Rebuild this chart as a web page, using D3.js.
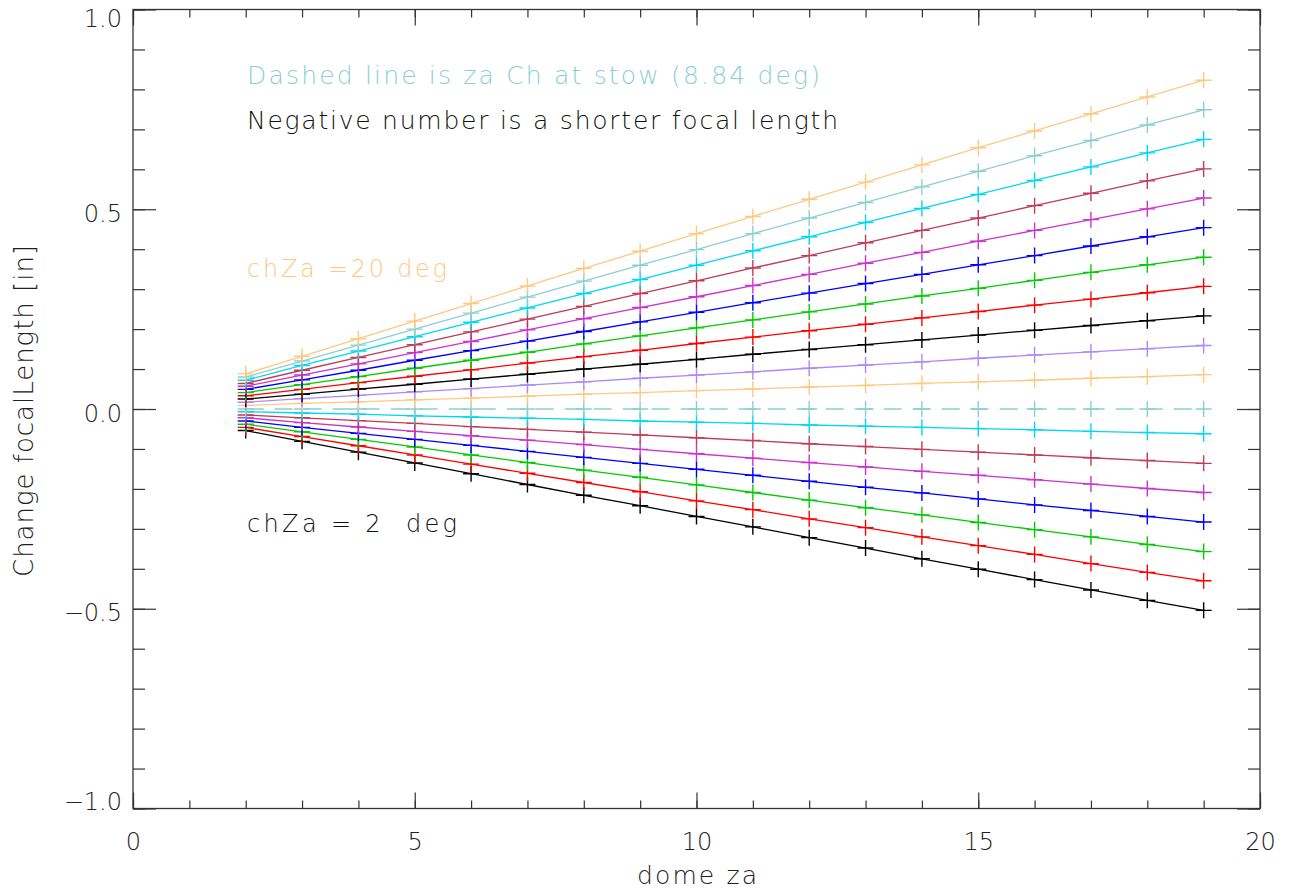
<!DOCTYPE html>
<html>
<head>
<meta charset="utf-8">
<script src="https://cdn.jsdelivr.net/npm/d3@7"></script>
<style>
  body { margin: 0; background: #fff; }
  svg { display: block; }
  text { font-family: "DejaVu Sans", Lato, sans-serif; font-weight: 200; }
</style>
</head>
<body>
<script>
// Focal length change vs dome za, one line per chZa

var svgWidth = 1291;
var svgHeight = 890;

// data
var domeZa = [2, 3, 4, 5, 6, 7, 8, 9, 10, 11, 12, 13, 14, 15, 16, 17, 18, 19];

var chZaList = [2, 3, 4, 5, 6, 7, 8, 10, 11, 12, 13, 14, 15, 16, 17, 18, 19, 20];

// one row per chZa, one value per domeZa
var focalChange = [
  [-0.054, -0.081, -0.108, -0.135, -0.162, -0.189, -0.216, -0.242, -0.269, -0.295, -0.322, -0.348, -0.375, -0.401, -0.427, -0.453, -0.479, -0.504],
  [-0.046, -0.069, -0.092, -0.115, -0.138, -0.161, -0.184, -0.207, -0.230, -0.252, -0.275, -0.297, -0.320, -0.342, -0.364, -0.387, -0.409, -0.430],
  [-0.038, -0.057, -0.076, -0.095, -0.115, -0.134, -0.153, -0.171, -0.190, -0.209, -0.228, -0.247, -0.265, -0.284, -0.302, -0.320, -0.339, -0.357],
  [-0.030, -0.046, -0.061, -0.076, -0.091, -0.106, -0.121, -0.136, -0.151, -0.166, -0.181, -0.196, -0.210, -0.225, -0.240, -0.254, -0.269, -0.283],
  [-0.022, -0.034, -0.045, -0.056, -0.067, -0.078, -0.089, -0.101, -0.112, -0.123, -0.134, -0.145, -0.156, -0.166, -0.177, -0.188, -0.199, -0.209],
  [-0.015, -0.022, -0.029, -0.036, -0.044, -0.051, -0.058, -0.065, -0.072, -0.079, -0.087, -0.094, -0.101, -0.108, -0.115, -0.122, -0.129, -0.136],
  [-0.007, -0.010, -0.013, -0.017, -0.020, -0.023, -0.026, -0.030, -0.033, -0.036, -0.040, -0.043, -0.046, -0.049, -0.052, -0.056, -0.059, -0.062],
  [0.009, 0.014, 0.018, 0.023, 0.027, 0.032, 0.037, 0.041, 0.046, 0.050, 0.055, 0.059, 0.064, 0.068, 0.072, 0.077, 0.081, 0.086],
  [0.017, 0.026, 0.034, 0.043, 0.051, 0.060, 0.068, 0.077, 0.085, 0.093, 0.102, 0.110, 0.118, 0.127, 0.135, 0.143, 0.151, 0.159],
  [0.025, 0.037, 0.050, 0.062, 0.075, 0.087, 0.100, 0.112, 0.124, 0.137, 0.149, 0.161, 0.173, 0.185, 0.197, 0.209, 0.221, 0.233],
  [0.033, 0.049, 0.066, 0.082, 0.098, 0.115, 0.131, 0.147, 0.164, 0.180, 0.196, 0.212, 0.228, 0.244, 0.260, 0.275, 0.291, 0.307],
  [0.041, 0.061, 0.081, 0.102, 0.122, 0.142, 0.163, 0.183, 0.203, 0.223, 0.243, 0.263, 0.283, 0.302, 0.322, 0.342, 0.361, 0.380],
  [0.049, 0.073, 0.097, 0.122, 0.146, 0.170, 0.194, 0.218, 0.242, 0.266, 0.290, 0.314, 0.337, 0.361, 0.384, 0.408, 0.431, 0.454],
  [0.057, 0.085, 0.113, 0.141, 0.169, 0.198, 0.226, 0.254, 0.281, 0.309, 0.337, 0.365, 0.392, 0.420, 0.447, 0.474, 0.501, 0.528],
  [0.064, 0.097, 0.129, 0.161, 0.193, 0.225, 0.257, 0.289, 0.321, 0.353, 0.384, 0.416, 0.447, 0.478, 0.509, 0.540, 0.571, 0.601],
  [0.072, 0.109, 0.145, 0.181, 0.217, 0.253, 0.289, 0.324, 0.360, 0.396, 0.431, 0.467, 0.502, 0.537, 0.572, 0.606, 0.641, 0.675],
  [0.080, 0.120, 0.160, 0.200, 0.240, 0.280, 0.320, 0.360, 0.399, 0.439, 0.478, 0.517, 0.556, 0.595, 0.634, 0.672, 0.711, 0.749],
  [0.088, 0.132, 0.176, 0.220, 0.264, 0.308, 0.352, 0.395, 0.439, 0.482, 0.525, 0.568, 0.611, 0.654, 0.696, 0.739, 0.781, 0.823]
];

// za Ch at stow line
var stowLine = [0, 0, 0, 0, 0, 0, 0, 0, 0, 0, 0, 0, 0, 0, 0, 0, 0, 0];

var xTicks = [0, 5, 10, 15, 20];
var yTicks = [-1.0, -0.5, 0.0, 0.5, 1.0];

// IDL style colour cycle
var palette = ['#000000', '#ff0000', '#00cc00', '#0000ff', '#cc33cc',
               '#c23a55', '#00d8f0', '#8ccfcf', '#ffc880', '#a98afc'];

var svg = d3.select('body').append('svg')
  .attr('width', svgWidth)
  .attr('height', svgHeight);

var xScale = d3.scaleLinear()
  .domain([0, 20])
  .range([133, 1260]);

var yScale = d3.scaleLinear()
  .domain([-1, 1])
  .range([808.5, 9.5]);

var fmtY = d3.format('.1f');

// axes, ticks pointing inward on all sides
function styleAxis(g) {
  g.select('.domain').remove();
  g.selectAll('line').attr('stroke', '#333').attr('stroke-width', 1.2);
  g.selectAll('text')
    .attr('fill', '#222')
    .style('font-family', '"DejaVu Sans", Lato, sans-serif')
    .style('font-weight', 200);
}

var minorX = d3.range(0, 21, 1);
var minorY = d3.range(-10, 11, 1).map(function(d) { return d / 10; });

svg.append('g')
  .attr('transform', 'translate(0,' + yScale(-1) + ')')
  .call(d3.axisBottom(xScale).tickValues(minorX).tickSize(-8).tickFormat(''))
  .call(styleAxis);
svg.append('g')
  .attr('transform', 'translate(0,' + yScale(-1) + ')')
  .call(d3.axisBottom(xScale).tickValues(xTicks).tickSize(-16).tickPadding(24)
    .tickFormat(d3.format('d')))
  .call(styleAxis)
  .selectAll('text').attr('font-size', 24);

svg.append('g')
  .attr('transform', 'translate(0,' + yScale(1) + ')')
  .call(d3.axisTop(xScale).tickValues(minorX).tickSize(-8).tickFormat(''))
  .call(styleAxis);
svg.append('g')
  .attr('transform', 'translate(0,' + yScale(1) + ')')
  .call(d3.axisTop(xScale).tickValues(xTicks).tickSize(-16).tickFormat(''))
  .call(styleAxis);

svg.append('g')
  .attr('transform', 'translate(' + xScale(0) + ',0)')
  .call(d3.axisLeft(yScale).tickValues(minorY).tickSize(-12).tickFormat(''))
  .call(styleAxis);
svg.append('g')
  .attr('transform', 'translate(' + xScale(0) + ',0)')
  .call(d3.axisLeft(yScale).tickValues(yTicks).tickSize(-23).tickPadding(11)
    .tickFormat(fmtY))
  .call(styleAxis)
  .selectAll('text')
  .attr('font-size', 24)
  // end labels are kept inside the frame, as IDL does
  .attr('dy', function(d) {
    if (d === 1) return 17;
    if (d === -1) return 1;
    return 12;
  });

svg.append('g')
  .attr('transform', 'translate(' + xScale(20) + ',0)')
  .call(d3.axisRight(yScale).tickValues(minorY).tickSize(-12).tickFormat(''))
  .call(styleAxis);
svg.append('g')
  .attr('transform', 'translate(' + xScale(20) + ',0)')
  .call(d3.axisRight(yScale).tickValues(yTicks).tickSize(-23).tickFormat(''))
  .call(styleAxis);

// frame
svg.append('rect')
  .attr('x', xScale(0))
  .attr('y', yScale(1))
  .attr('width', xScale(20) - xScale(0))
  .attr('height', yScale(-1) - yScale(1))
  .attr('fill', 'none')
  .attr('stroke', '#333')
  .attr('stroke-width', 1.3);

// build the series list in plotting order
var series = [];
chZaList.forEach(function(z, i) {
  if (z === 10) {
    series.push({ name: 'stow', values: stowLine, dashed: true });
  }
  series.push({ name: z, values: focalChange[i], dashed: false });
});

var line = d3.line()
  .x(function(d) { return xScale(d.x); })
  .y(function(d) { return yScale(d.y); });

var plot = svg.append('g');

series.forEach(function(s, i) {
  var color = palette[i % palette.length];
  var pts = s.values.map(function(v, j) { return { x: domeZa[j], y: v }; });

  plot.append('path')
    .datum(pts)
    .attr('d', line)
    .attr('fill', 'none')
    .attr('stroke', color)
    .attr('stroke-width', 1.3)
    .attr('stroke-dasharray', s.dashed ? '18,11' : null);

  plot.append('g')
    .selectAll('path')
    .data(pts)
    .enter()
    .append('path')
    .attr('d', function(d) {
      var cx = xScale(d.x), cy = yScale(d.y), r = 8;
      return 'M' + (cx - r) + ',' + cy + 'H' + (cx + r) +
             'M' + cx + ',' + (cy - r) + 'V' + (cy + r);
    })
    .attr('stroke', color)
    .attr('stroke-width', 1.4)
    .attr('fill', 'none');
});

// notes inside the plot
svg.append('text')
  .attr('x', 247).attr('y', 84)
  .attr('font-size', 25)
  .attr('fill', '#8ccfcf')
  .attr('textLength', 573).attr('lengthAdjust', 'spacing')
  .text('Dashed line is za Ch at stow (8.84 deg)');

svg.append('text')
  .attr('x', 247).attr('y', 129)
  .attr('font-size', 25)
  .attr('fill', '#111')
  .attr('textLength', 591).attr('lengthAdjust', 'spacing')
  .text('Negative number is a shorter focal length');

svg.append('text')
  .attr('x', 247).attr('y', 277)
  .attr('font-size', 24)
  .attr('fill', '#ffc880')
  .attr('textLength', 200).attr('lengthAdjust', 'spacing')
  .text('chZa =20 deg');

svg.append('text')
  .attr('x', 247).attr('y', 532)
  .attr('font-size', 24)
  .attr('fill', '#111')
  .attr('textLength', 210).attr('lengthAdjust', 'spacing')
  .style('white-space', 'pre')
  .text('chZa = 2  deg');

// axis titles
svg.append('text')
  .attr('transform', 'rotate(-90)')
  .attr('x', -411).attr('y', 33)
  .attr('text-anchor', 'middle')
  .attr('font-size', 26)
  .attr('fill', '#222')
  .attr('textLength', 332).attr('lengthAdjust', 'spacing')
  .text('Change focalLength [in]');

svg.append('text')
  .attr('x', 697).attr('y', 884)
  .attr('text-anchor', 'middle')
  .attr('font-size', 25)
  .attr('fill', '#222')
  .attr('textLength', 120).attr('lengthAdjust', 'spacing')
  .text('dome za');
</script>
</body>
</html>
